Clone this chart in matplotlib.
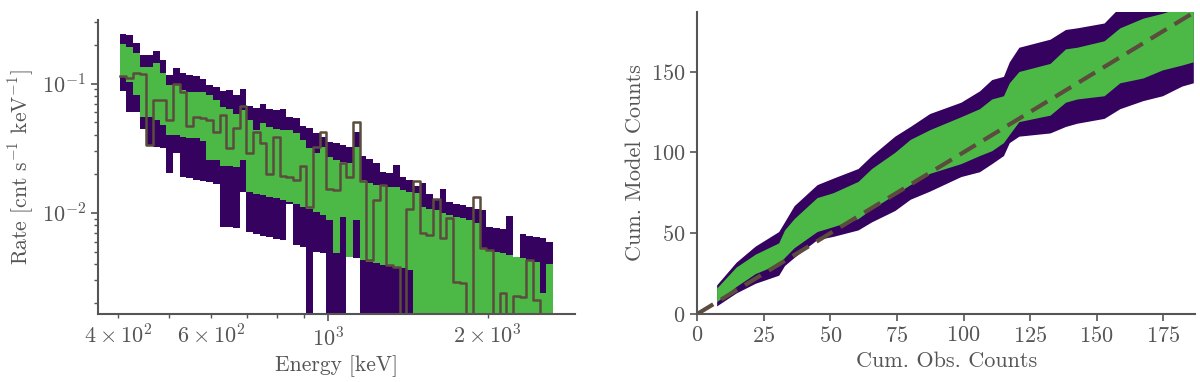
import matplotlib
matplotlib.use("Agg")
import matplotlib.pyplot as plt
import numpy as np

plt.rcParams['font.family'] = 'serif'
plt.rcParams['font.serif'] = ['cmr10']
plt.rcParams['mathtext.fontset'] = 'cm'
plt.rcParams['axes.formatter.use_mathtext'] = True

# energy binning of the spectrum (log spaced bins)
e_min, e_max, n_bins = 403.0, 2660.0, 65

# posterior predictive bands per bin [cnt s^-1 keV^-1]
purple_hi = [0.243, 0.236, 0.206, 0.165, 0.165, 0.178, 0.151, 0.116, 0.132, 0.120,
             0.116, 0.114, 0.109, 0.0970, 0.0941, 0.0877, 0.0888, 0.0812, 0.0915, 0.0668,
             0.0648, 0.0700, 0.0641, 0.0622, 0.0641, 0.0552, 0.0546, 0.0468, 0.0457, 0.0415,
             0.0385, 0.0354, 0.0344, 0.0334, 0.0324, 0.0423, 0.0274, 0.0263, 0.0241, 0.0207,
             0.0202, 0.0234, 0.0190, 0.0179, 0.0161, 0.0169, 0.0141, 0.0129, 0.0154, 0.0122,
             0.0118, 0.0115, 0.0111, 0.0108, 0.0106, 0.00780, 0.00757, 0.00744, 0.00943, 0.00457,
             0.00681, 0.00661, 0.00645, 0.00634, 0.00597]
green_hi = [0.204, 0.191, 0.171, 0.134, 0.134, 0.143, 0.120, 0.0970, 0.100, 0.0888,
            0.0861, 0.0861, 0.0861, 0.0812, 0.0743, 0.0659, 0.0641, 0.0586, 0.0622, 0.0520,
            0.0436, 0.0491, 0.0462, 0.0449, 0.0436, 0.0436, 0.0411, 0.0365, 0.0315, 0.0288,
            0.0324, 0.0271, 0.0255, 0.0248, 0.0241, 0.0324, 0.0179, 0.0169, 0.0164, 0.0161,
            0.0159, 0.0159, 0.0150, 0.0145, 0.0143, 0.0111, 0.0108, 0.0105, 0.00995, 0.00960,
            0.00931, 0.00905, 0.00878, 0.00828, 0.00531, 0.00515, 0.00500, 0.00486, 0.00471, 0.00457,
            0.00444, 0.00431, 0.00418, 0.00238, 0.00399]
green_lo = [0.112, 0.102, 0.0812, 0.0552, 0.0552, 0.0520, 0.0476, 0.0399, 0.0399, 0.0385,
            0.0376, 0.0376, 0.0358, 0.0255, 0.0255, 0.0231, 0.0231, 0.0227, 0.0255, 0.0145,
            0.0141, 0.0137, 0.0133, 0.0130, 0.0125, 0.0121, 0.0118, 0.0111, 0.0108, 0.0102,
            0.00960, 0.00878, 0.00486, 0.00931, 0.00457, 0.00878, 0.00431, 0.00418, 0.00406, 0.00394,
            0.00394, 0.00383, 0.00372, 0.00361, 0, 0, 0, 0, 0, 0,
            0, 0, 0, 0, 0, 0, 0, 0, 0, 0,
            0, 0, 0, 0, 0]
purple_lo = [0.0877, 0.0603, 0.0603, 0.0449, 0.0334, 0.0324, 0.0315, 0.0202, 0.0288, 0.0190,
             0.0185, 0.0181, 0.0177, 0.0173, 0.0167, 0.00780, 0.00775, 0.00762, 0.0145, 0.00709,
             0.00684, 0.00666, 0.00649, 0.00632, 0.00615, 0.0118, 0.00563, 0.00546, 0, 0.00500,
             0.00488, 0, 0, 0, 0.00457, 0.00447, 0, 0, 0, 0,
             0, 0, 0, 0, 0, 0, 0, 0, 0, 0,
             0, 0, 0, 0, 0, 0, 0, 0, 0, 0,
             0, 0, 0, 0, 0]
# observed count rate per bin
observed = [0.114, 0.111, 0.120, 0.118, 0.0334, 0.0752, 0.0743, 0.0520, 0.100, 0.0861,
            0.0468, 0.0552, 0.0539, 0.0523, 0.0423, 0.0569, 0.0318, 0.0457, 0.0668, 0.0291,
            0.0423, 0.0344, 0.0199, 0.0385, 0.0192, 0.0190, 0.0179, 0.0230, 0.0111, 0.0324,
            0.0423, 0.0154, 0.0150, 0.0241, 0.0190, 0.0505, 0.0177, 0.00431, 0.0125, 0.0164,
            0.00394, 0.00383, 0, 0.0108, 0.0177, 0.00693, 0.00672, 0.0129, 0.00634, 0.00918,
            0.00293, 0.00285, 0, 0.0133, 0.00531, 0.00515, 0, 0.00241, 0, 0.00227,
            0.00224, 0.00431, 0.00212, 0, 0]

# cumulative counts (right panel)
cum_obs = [7.3, 14.6, 21.8, 30.6, 32.8, 36.4, 45, 51, 60.4, 65.5, 74.2, 80, 87.3, 99,
           106, 110.6, 115, 117.2, 120.8, 132.5, 138.3, 142.6, 152.8, 158.7, 167.4, 174.7, 182, 186.3]
cum_p_hi = [18, 32, 42, 51, 57, 67, 80, 84, 90, 98, 110, 116, 124, 131,
            138, 145, 147, 156, 165, 170, 176, 177, 180, 190, 195, 200, 205, 210]
cum_g_hi = [16, 29, 37, 44, 52, 59, 72, 75, 82, 90, 100, 108, 114, 122,
            127, 133, 135, 143, 150, 155, 164, 165, 169, 177, 183, 186, 190, 192]
cum_g_lo = [7.6, 17, 25, 31, 35, 41, 51, 54, 59, 65, 74, 80, 87, 93,
            98, 101, 106, 111, 119, 123, 131, 133, 135, 143, 146, 151, 154, 156]
cum_p_lo = [5, 13, 19, 24, 30, 35, 46, 48, 52, 57, 64, 71, 76, 85,
            88, 93, 98, 106, 110, 112, 116, 118, 121, 127, 132, 135, 141, 143]
cum_max = 187

purple = '#350260'
green = '#4cb947'
brown = '#5b4c3d'
grey = '#555555'

fig = plt.figure(figsize=(12, 3.82), dpi=100)
ax1 = fig.add_axes([0.0817, 0.178, 0.3973, 0.7696])
ax2 = fig.add_axes([0.581, 0.178, 0.415, 0.7914])

edges = np.geomspace(e_min, e_max, n_bins + 1)


def stepped(vals):
    v = np.asarray(vals, dtype=float)
    v = np.where(v > 0, v, 1e-7)
    return np.append(v, v[-1])


ax1.fill_between(edges, stepped(purple_lo), stepped(purple_hi), step='post',
                 color=purple, lw=0)
ax1.fill_between(edges, stepped(green_lo), stepped(green_hi), step='post',
                 color=green, lw=0)
ax1.step(edges, stepped(observed), where='post', color=brown, lw=1.8)
ax1.set_xscale('log')
ax1.set_yscale('log')
ax1.set_ylim(1.65e-3, 0.31)
ax1.set_xlabel('Energy [keV]', fontsize=15.5)
ax1.set_ylabel(r'Rate [cnt s$^{-1}$ keV$^{-1}$]', fontsize=15.5)

ax2.fill_between(cum_obs, cum_p_lo, cum_p_hi, color=purple, lw=0)
ax2.fill_between(cum_obs, cum_g_lo, cum_g_hi, color=green, lw=0)
ax2.plot([0, cum_max], [0, cum_max], color=brown, lw=3.0, ls=(0, (4.5, 2.2)))
ax2.set_xlim(0, cum_max)
ax2.set_ylim(0, cum_max)
ax2.set_xticks([0, 25, 50, 75, 100, 125, 150, 175])
ax2.set_yticks([0, 50, 100, 150])
ax2.set_xlabel('Cum. Obs. Counts', fontsize=16)
ax2.set_ylabel('Cum. Model Counts', fontsize=16)

for ax in (ax1, ax2):
    ax.spines['top'].set_visible(False)
    ax.spines['right'].set_visible(False)
    for s in ('left', 'bottom'):
        ax.spines[s].set_color(grey)
        ax.spines[s].set_linewidth(1.5)
    ax.tick_params(which='major', colors=grey, labelsize=16, length=5, width=1.2)
    ax.tick_params(which='minor', colors=grey, labelsize=16, length=3, width=1.0)
    ax.xaxis.label.set_color(grey)
    ax.yaxis.label.set_color(grey)

fig.savefig('out.png', dpi=100)
